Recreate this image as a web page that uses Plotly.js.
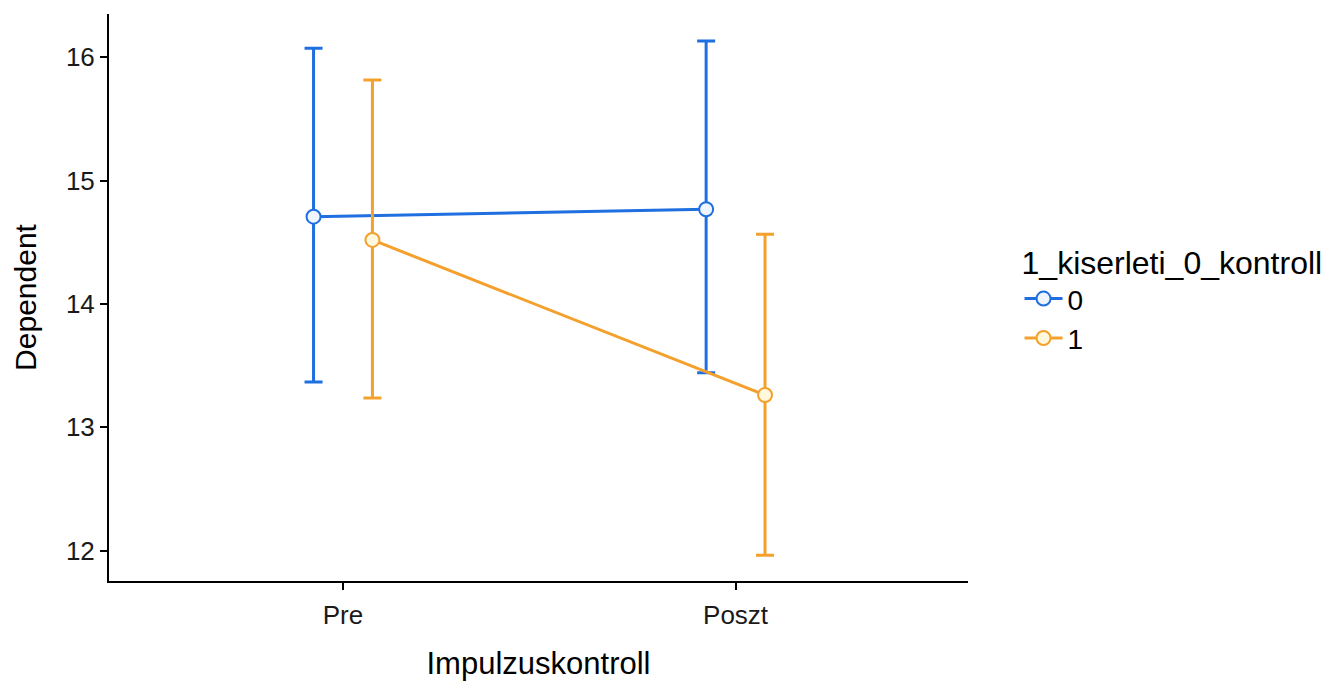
<!DOCTYPE html>
<html>
<head>
<meta charset="utf-8">
<script src="https://cdn.plot.ly/plotly-3.0.1.min.js"></script>
<style>html,body{margin:0;padding:0;background:#fff;}#chart{width:1342px;height:684px;}</style>
</head>
<body>
<div id="chart"></div>
<script>
const categories = ["Pre", "Poszt"];
const groups = ["0", "1"];
const mean0 = [14.708, 14.768];
const upper0 = [16.073, 16.132];
const lower0 = [13.368, 13.443];
const mean1 = [14.519, 13.262];
const upper1 = [15.816, 14.565];
const lower1 = [13.238, 11.963];
const colors = ["#1f6fe0", "#f3a12c"];
const fills = ["#eef5ff", "#fff8dc"];

const dodge = [-0.075, 0.075];
const means = [mean0, mean1];
const uppers = [upper0, upper1];
const lowers = [lower0, lower1];

const traces = groups.map((g, gi) => ({
  type: "scatter",
  mode: "lines+markers",
  name: g,
  x: categories.map((c, i) => i + 1 + dodge[gi]),
  y: means[gi],
  line: {color: colors[gi], width: 3},
  marker: {symbol: "circle", size: 14, color: fills[gi], line: {color: colors[gi], width: 2}},
  error_y: {
    type: "data", symmetric: false,
    array: means[gi].map((m, i) => uppers[gi][i] - m),
    arrayminus: means[gi].map((m, i) => m - lowers[gi][i]),
    color: colors[gi], thickness: 3, width: 9
  }
}));

const layout = {
  width: 1342, height: 684,
  paper_bgcolor: "#fff", plot_bgcolor: "#fff",
  margin: {l: 109, r: 374, t: 14, b: 103},
  font: {family: "Liberation Sans, Arial, sans-serif", color: "#000"},
  showlegend: true,
  xaxis: {
    range: [0.404, 2.592],
    tickvals: categories.map((c, i) => i + 1),
    ticktext: categories,
    showgrid: false, zeroline: false,
    showline: true, linecolor: "#000", linewidth: 2,
    ticks: "outside", ticklen: 7, tickwidth: 2, tickcolor: "#000",
    ticklabelstandoff: 3,
    tickfont: {size: 26, color: "#1a1a1a"},
    automargin: false,
    title: {text: "Impulzuskontroll", font: {size: 31, color: "#000"}, standoff: 23}
  },
  yaxis: {
    range: [11.754, 16.351],
    tickvals: [12, 13, 14, 15, 16],
    showgrid: false, zeroline: false,
    showline: true, linecolor: "#000", linewidth: 2,
    ticks: "outside", ticklen: 7, tickwidth: 2, tickcolor: "#000",
    tickfont: {size: 26, color: "#1a1a1a"},
    automargin: false,
    title: {text: "Dependent", font: {size: 30, color: "#000"}, standoff: 20}
  },
  legend: {
    x: 1.06, xanchor: "left", y: 0.615, yanchor: "top",
    title: {text: "1_kiserleti_0_kontroll", font: {size: 32, color: "#000"}},
    font: {size: 28, color: "#000"},
    bgcolor: "rgba(0,0,0,0)",
    itemwidth: 38,
    tracegroupgap: 0
  }
};

Plotly.newPlot("chart", traces, layout, {displayModeBar: false, staticPlot: true});
</script>
</body>
</html>
